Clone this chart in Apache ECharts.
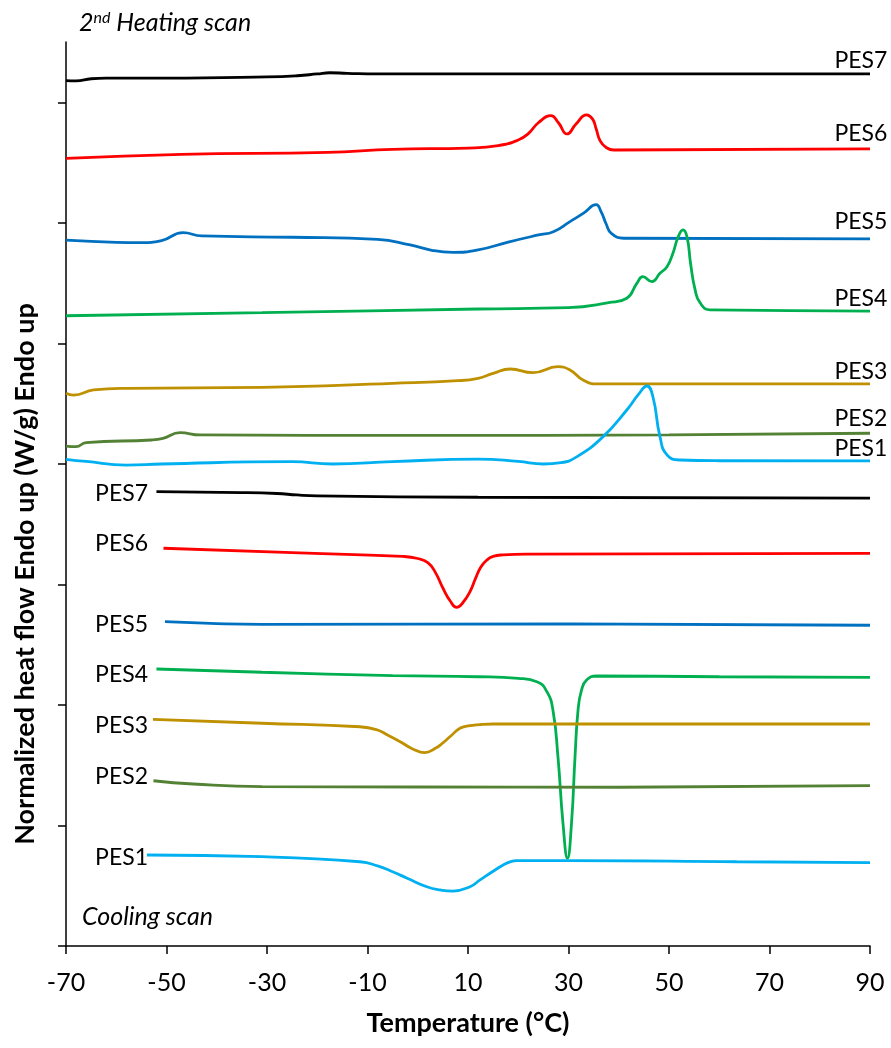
<!DOCTYPE html>
<html>
<head>
<meta charset="utf-8">
<script src="https://cdn.jsdelivr.net/npm/echarts@6/dist/echarts.min.js"></script>
<style>html,body{margin:0;padding:0;background:#fff}#c{width:891px;height:1048px}</style>
</head>
<body>
<div id="c"></div>
<script>
// ---- data (x: Temperature °C, y: normalized heat flow, offset curves) ----
const xTicks = [-70, -50, -30, -10, 10, 30, 50, 70, 90];
const yTicks = [0, 1, 2, 3, 4, 5, 6, 7];
const names = ['PES7', 'PES6', 'PES5', 'PES4', 'PES3', 'PES2', 'PES1'];
const colors = ['#000000', '#FF0000', '#0070C0', '#00B050', '#BF9000', '#548235', '#00B0F0'];

// 2nd heating scan
const heat7 = [[-70,7.18],[-68,7.178],[-65,7.195],[-62,7.20],[-50,7.20],[-30,7.21],[-24,7.22],[-20,7.235],[-17.5,7.245],[-14,7.24],[-8,7.235],[90,7.235]];
const heat6 = [[-70,6.535],[-47,6.568],[-18,6.585],[-5,6.61],[10,6.62],[16,6.64],[20,6.687],[22,6.74],[24,6.83],[26.5,6.889],[28,6.83],[29.7,6.737],[31.5,6.82],[33.6,6.895],[34.8,6.86],[35.5,6.78],[36.3,6.68],[37.5,6.625],[39,6.604],[90,6.613]];
const heat5 = [[-70,5.857],[-60,5.838],[-55,5.835],[-51,5.852],[-46.7,5.918],[-43,5.891],[-25,5.88],[-8,5.863],[-1.5,5.816],[3,5.77],[7,5.755],[12,5.775],[18,5.84],[24,5.899],[27,5.926],[30.3,6.01],[33,6.08],[35.5,6.15],[36.5,6.09],[37.5,5.99],[38.5,5.913],[41,5.872],[90,5.866]];
const heat4 = [[-70,5.229],[-31,5.254],[12,5.285],[30,5.296],[38,5.337],[41.6,5.374],[43.6,5.498],[44.8,5.553],[46.6,5.512],[48.2,5.581],[49.6,5.636],[50.8,5.75],[51.8,5.88],[52.8,5.941],[53.6,5.88],[54.3,5.66],[55.2,5.443],[56.2,5.335],[58.2,5.277],[90,5.268]];
const heat3 = [[-70,4.586],[-68.5,4.571],[-64.5,4.613],[-58,4.627],[-31,4.635],[-5,4.668],[8,4.69],[12,4.71],[15,4.75],[18.4,4.787],[22.9,4.757],[27.9,4.806],[30.3,4.779],[32.9,4.696],[35.7,4.663],[90,4.663]];
const heat2 = [[-70,4.148],[-68,4.143],[-66,4.176],[-53,4.198],[-50.7,4.212],[-47.3,4.259],[-43.3,4.24],[0,4.236],[50,4.24],[90,4.254]];
const heat1 = [[-70,4.038],[-66,4.02],[-58,3.99],[-51,3.999],[-25,4.018],[-17,3.999],[-5,4.018],[12,4.04],[20,4.02],[25,3.999],[28.5,4.01],[31.7,4.06],[36.9,4.226],[41.6,4.447],[44,4.58],[45.6,4.646],[46.8,4.557],[48.2,4.226],[49.6,4.074],[52.2,4.032],[60,4.026],[90,4.024]];

// cooling scan
const cool7 = [[-52,3.769],[-35,3.762],[-28,3.754],[-24,3.742],[-20,3.735],[12,3.723],[90,3.715]];
const cool6 = [[-50.6,3.30],[-25,3.263],[-3,3.232],[0,3.215],[2,3.18],[3.5,3.10],[5,2.97],[6.5,2.86],[7.75,2.81],[9,2.85],[10.4,2.94],[11.5,3.05],[12.5,3.14],[13.7,3.20],[15,3.232],[17,3.245],[22,3.252],[90,3.258]];
const cool5 = [[-50.3,2.691],[-40,2.675],[-31,2.669],[30,2.672],[90,2.661]];
const cool4 = [[-52,2.298],[-31,2.271],[-5,2.243],[12,2.234],[20,2.221],[23.7,2.193],[25.7,2.11],[26.9,1.958],[27.9,1.571],[28.9,1.02],[29.8,0.728],[30.6,1.02],[31.3,1.571],[31.9,1.958],[32.6,2.124],[33.6,2.207],[35.6,2.24],[60,2.234],[90,2.229]];
const cool3 = [[-52.7,1.881],[-31,1.848],[-11.5,1.819],[-8,1.792],[-6,1.75],[-3.5,1.695],[-1,1.635],[1.4,1.604],[3.5,1.64],[5,1.685],[6.4,1.736],[8.4,1.806],[10,1.826],[12.4,1.837],[15,1.842],[90,1.842]];
const cool2 = [[-52.6,1.371],[-44.7,1.344],[-31,1.322],[0,1.319],[40,1.317],[90,1.33]];
const cool1 = [[-53.9,0.755],[-31,0.741],[-11.5,0.699],[-8,0.665],[-5,0.616],[-2,0.56],[1.8,0.492],[4.5,0.465],[7,0.456],[10.4,0.492],[12.4,0.548],[15,0.62],[17,0.672],[18.5,0.70],[19.7,0.708],[30,0.708],[63.5,0.699],[90,0.691]];

// curve label anchors (data units)
const heatLabelX = 88.2;
const heatLabelY = [7.348, 6.743, 6.009, 5.37, 4.765, 4.375, 4.129];
const coolLabelX = -58.95;
const coolLabelY = [3.752, 3.337, 2.663, 2.255, 1.829, 1.402, 0.737];

const heating = [heat7, heat6, heat5, heat4, heat3, heat2, heat1];
const cooling = [cool7, cool6, cool5, cool4, cool3, cool2, cool1];

// ---- chart ----
const FONT = 'Lato';
const chart = echarts.init(document.getElementById('c'), null, {renderer: 'canvas'});
const series = [];
function lineSeries(name, data, color) {
  return {
    name: name, type: 'line', data: data, smooth: 0.5, showSymbol: false, symbol: 'none',
    lineStyle: {color: color, width: 2.8}, itemStyle: {color: color}, z: 3, silent: true
  };
}
heating.forEach((d, i) => series.push(lineSeries(names[i] + ' heating', d, colors[i])));
cooling.forEach((d, i) => series.push(lineSeries(names[i] + ' cooling', d, colors[i])));
series.push({
  type: 'scatter', symbolSize: 0, itemStyle: {color: '#000', opacity: 1}, silent: true, z: 5,
  data: names.map((n, i) => ({name: n, value: [heatLabelX, heatLabelY[i]]}))
    .concat(names.map((n, i) => ({name: n, value: [coolLabelX, coolLabelY[i]]}))),
  label: {show: true, position: 'inside', formatter: '{b}', color: '#000', opacity: 1, fontFamily: FONT, fontSize: 23}
});

chart.setOption({
  animation: false,
  backgroundColor: '#fff',
  grid: {left: 66, right: 21, top: 42, bottom: 102},
  xAxis: {
    type: 'value', min: -70, max: 90,
    name: 'Temperature (°C)', nameLocation: 'middle', nameGap: 64,
    nameTextStyle: {fontFamily: FONT, fontSize: 27, fontWeight: 'bold', color: '#000'},
    axisLine: {show: true, lineStyle: {color: '#000', width: 1.5}},
    axisTick: {show: true, customValues: xTicks, length: 8, inside: false, lineStyle: {color: '#000', width: 1.5}},
    axisLabel: {show: true, customValues: xTicks, margin: 24, fontFamily: FONT, fontSize: 25, color: '#000'},
    splitLine: {show: false}
  },
  yAxis: {
    type: 'value', min: 0, max: 7.5,
    axisLine: {show: true, onZero: false, lineStyle: {color: '#000', width: 1.5}},
    axisTick: {show: true, customValues: yTicks, length: 8, inside: false, lineStyle: {color: '#000', width: 1.5}},
    axisLabel: {show: false},
    splitLine: {show: false}
  },
  graphic: [
    {
      type: 'text', left: 79, top: 10, silent: true,
      style: {
        text: '{n|2}{s|nd}{n| Heating scan}',
        rich: {
          n: {fontFamily: FONT, fontSize: 25, fontStyle: 'italic', fill: '#000', color: '#000'},
          s: {fontFamily: FONT, fontSize: 16, fontStyle: 'italic', fill: '#000', color: '#000', verticalAlign: 'top', padding: [0, 0, 9, 0]}
        }
      }
    },
    {
      type: 'text', left: 82, top: 904, silent: true,
      style: {text: 'Cooling scan', font: 'italic 25px ' + FONT, fill: '#000'}
    },
    {
      type: 'text', x: 25, y: 574, rotation: Math.PI / 2, silent: true,
      style: {text: 'Normalized heat flow Endo up (W/g) Endo up', font: 'bold 27px ' + FONT, fill: '#000', align: 'center', verticalAlign: 'middle'}
    }
  ],
  series: series
});
</script>
</body>
</html>
